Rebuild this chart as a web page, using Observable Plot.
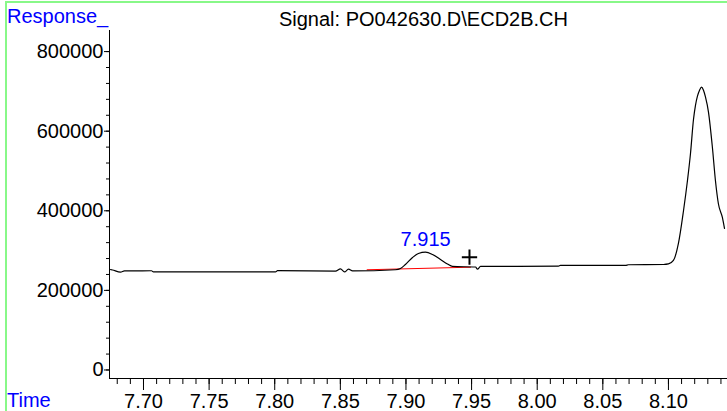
<!DOCTYPE html>
<html>
<head>
<meta charset="utf-8">
<script src="https://cdn.jsdelivr.net/npm/d3@7"></script>
<script src="https://cdn.jsdelivr.net/npm/@observablehq/plot@0.6"></script>
<style>
  html, body { margin: 0; padding: 0; background: #fff; }
  #chart { position: relative; width: 727px; height: 411px; }
</style>
</head>
<body>
<div id="chart"></div>
<script>
// Retention time (min) and detector response
const times = [7.6749, 7.6764, 7.6825, 7.6855, 7.7061, 7.7076, 7.8006, 7.8021, 7.8463, 7.8501,
  7.8532, 7.8562, 7.8593, 7.8920, 7.8958, 7.8996, 7.9050, 7.9095, 7.9149, 7.9202,
  7.9263, 7.9316, 7.9354, 7.9530, 7.9545, 7.9568, 8.0162, 8.0177, 8.0673, 8.0695,
  8.0962, 8.1000, 8.1038, 8.1076, 8.1115, 8.1145, 8.1168, 8.1191, 8.1206, 8.1221,
  8.1237, 8.1252, 8.1267, 8.1282, 8.1305, 8.1335, 8.1358, 8.1381, 8.1411, 8.1427];
const responses = [252500, 251300, 245800, 248800, 249300, 246300, 246300, 249500, 248300, 253800,
  246300, 253300, 248800, 251800, 255100, 265100, 282700, 292800, 296000, 290300,
  277700, 266400, 260100, 258800, 253300, 260100, 260800, 262600, 262600, 264400,
  265100, 266400, 275200, 317900, 400800, 476200, 544100, 630000, 665000, 688000,
  703000, 710700, 703000, 686000, 648000, 559100, 476200, 417100, 383200, 355600];

// Integration baseline (red) under the 7.915 peak
const baseTimes = [7.8704, 7.9492];
const baseValues = [251800, 258300];

// Peak annotation
const peakTimes = [7.915];
const peakValues = [296000];
const peakLabels = ["7.915"];

// Peak end marker (+)
const markerTimes = [7.9484];
const markerValues = [283500];

// Axes
const xDomain = [7.6741, 8.145];
const yDomain = [-21400, 853000];
const xMajor = [7.70, 7.75, 7.80, 7.85, 7.90, 7.95, 8.00, 8.05, 8.10];
const xMajorLabels = ["7.70", "7.75", "7.80", "7.85", "7.90", "7.95", "8.00", "8.05", "8.10"];
const xMinor = d3.range(768, 815, 1).map(d => d / 100);
const yMajor = [0, 200000, 400000, 600000, 800000];
const yMajorLabels = ["0", "200000", "400000", "600000", "800000"];
const yMinor = d3.range(0, 800001, 40000);

const titleText = "Signal: PO042630.D\\ECD2B.CH";
const yTitle = "Response_";
const xTitle = "Time";

const idx = times.map((_, i) => i);
const bidx = baseTimes.map((_, i) => i);

const plot = Plot.plot({
  width: 727,
  height: 411,
  marginLeft: 109,
  marginRight: 0,
  marginTop: 30,
  marginBottom: 33,
  x: { domain: xDomain },
  y: { domain: yDomain },
  style: { fontFamily: "'Liberation Sans', Arial, sans-serif", fontSize: "20px", color: "#000", background: "transparent" },
  marks: [
    Plot.ruleX([xDomain[0]], { stroke: "#000", strokeWidth: 1 }),
    Plot.ruleY([yDomain[0]], { stroke: "#000", strokeWidth: 1 }),
    Plot.axisX(xMinor, { tickSize: 6, tickFormat: () => "", label: null, stroke: "#000" }),
    Plot.axisX(xMajor, { tickSize: 12, tickPadding: 3, tickFormat: d => xMajorLabels[xMajor.indexOf(d)], label: null, fontSize: 20, fill: "#000", stroke: "#000" }),
    Plot.axisY(yMinor, { tickSize: 3, tickFormat: () => "", label: null, stroke: "#000" }),
    Plot.axisY(yMajor, { tickSize: 5, tickPadding: 1, tickFormat: d => yMajorLabels[yMajor.indexOf(d)], label: null, fontSize: 20, fill: "#000", stroke: "#000" }),
    Plot.line(bidx, { x: i => baseTimes[i], y: i => baseValues[i], stroke: "#ff0000", strokeWidth: 1 }),
    Plot.line(idx, { x: i => times[i], y: i => responses[i], stroke: "#000", strokeWidth: 1.2, curve: "monotone-x" }),
    Plot.text(peakLabels, { x: (d, i) => peakTimes[i], y: (d, i) => peakValues[i], text: d => d, fill: "#0000ff", fontSize: 20, lineAnchor: "bottom", dy: -6 }),
    Plot.dot(markerTimes, { x: d => d, y: (d, i) => markerValues[i], symbol: "plus", r: 5, stroke: "#000", strokeWidth: 2 })
  ]
});

const chart = document.getElementById("chart");
chart.appendChild(plot);

const svg = d3.select(plot);
// decorative green frame (top and left edges)
svg.append("line").attr("x1", 5).attr("x2", 727).attr("y1", 2).attr("y2", 2)
  .attr("stroke", "#88f888").attr("stroke-width", 2);
svg.append("line").attr("x1", 6).attr("x2", 6).attr("y1", 1).attr("y2", 411)
  .attr("stroke", "#88f888").attr("stroke-width", 2);
svg.append("text").attr("x", 568).attr("y", 26).attr("text-anchor", "end")
  .attr("fill", "#000").style("font-size", "20px").text(titleText);
svg.append("text").attr("x", 7).attr("y", 23).attr("text-anchor", "start")
  .attr("fill", "#0000ff").style("font-size", "20px").text(yTitle);
svg.append("text").attr("x", 7).attr("y", 407).attr("text-anchor", "start")
  .attr("fill", "#0000ff").style("font-size", "20px").text(xTitle);
</script>
</body>
</html>
